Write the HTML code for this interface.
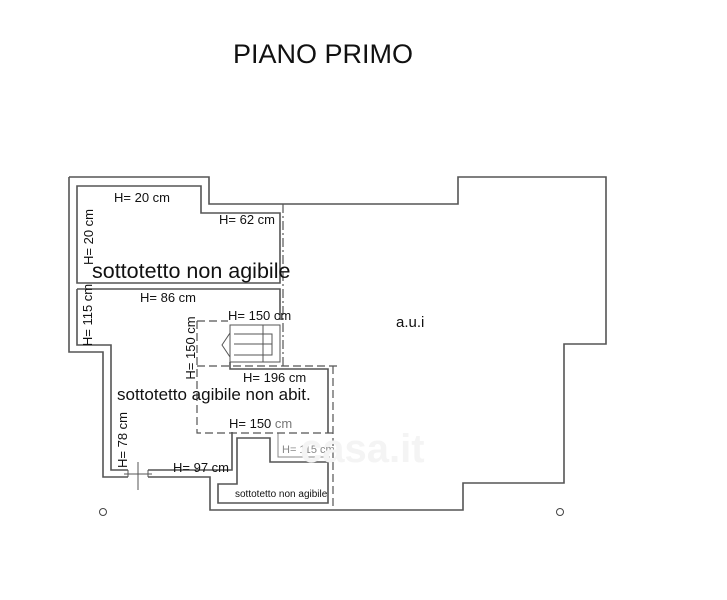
<!DOCTYPE html>
<html><head><meta charset="utf-8"><style>
body{margin:0;background:#fff}
svg{display:block}
text{font-family:"Liberation Sans",Arial,sans-serif;fill:#111}
</style></head><body>
<svg width="727" height="600" viewBox="0 0 727 600" xmlns="http://www.w3.org/2000/svg">
<rect width="727" height="600" fill="#fff"/>
<text x="323" y="63" font-size="27" text-anchor="middle">PIANO PRIMO</text>
<g fill="none" stroke="#555" stroke-width="1.6">
<path d="M69,177 H209 V204 H458 V177 H606 V344 H564 V483 H463 V510 H210 V477 H148 M128,477 H103 V352 H69 V177"/>
<path d="M77,186 H201 V213 H280 V283 H77 Z"/>
<path d="M77,289 H280 V320 M77,289 V345 H111 V470 H128 M148,470 H232 V432"/>
<path d="M128,470 V477 M148,470 V477 M138,462 V490 M124,474 H152" stroke-width="1"/>
<path d="M230,325 H280 V362 H230 Z M234,334 H272 V355 H234 M234,344 H272 M263,325 V362 M230,333 L222,345 L230,357" stroke-width="1"/>
<path d="M230,362 V369 H328 V433" />
<path d="M218,484 H237 V438 H270 V462 H328 V503 H218 Z"/>
<path d="M278,433 V457 H330" stroke="#888" stroke-width="1"/>
</g>
<g fill="none" stroke="#555" stroke-width="1.2" stroke-dasharray="8,4">
<path d="M197,321 H228 M197,321 V433 H333 M197,366 H340 M333,366 V510"/>
</g>
<path d="M283,204 V366" stroke="#555" stroke-width="1.2" stroke-dasharray="9,3,2,3" fill="none"/>
<circle cx="103" cy="512" r="3.5" fill="none" stroke="#444"/>
<circle cx="560" cy="512" r="3.5" fill="none" stroke="#444"/>
<g font-size="13">
<text x="114" y="202">H= 20 cm</text>
<text x="219" y="224">H= 62 cm</text>
<text transform="translate(93,237) rotate(-90)" text-anchor="middle">H= 20 cm</text>
<text x="140" y="302">H= 86 cm</text>
<text transform="translate(92,315) rotate(-90)" text-anchor="middle">H= 115 cm</text>
<text x="228" y="320">H= 150 cm</text>
<text transform="translate(195,348) rotate(-90)" text-anchor="middle">H= 150 cm</text>
<text x="243" y="382">H= 196 cm</text>
<text x="229" y="428">H= 150 <tspan style="fill:#777">cm</tspan></text>
<text transform="translate(127,440) rotate(-90)" text-anchor="middle">H= 78 cm</text>
<text x="173" y="472">H= 97 cm</text>
</g>
<text x="92" y="278" font-size="21.5">sottotetto non agibile</text>
<text x="117" y="400" font-size="17">sottotetto agibile non abit.</text>
<text x="282" y="453" font-size="11" style="fill:#888">H= 115 cm</text>
<text x="235" y="497" font-size="10">sottotetto non agibile</text>
<text x="396" y="327" font-size="15">a.u.i</text>
<text x="300" y="462" font-size="40" style="fill:#f4f4f4" font-weight="bold">casa.it</text>
</svg>
</body></html>
